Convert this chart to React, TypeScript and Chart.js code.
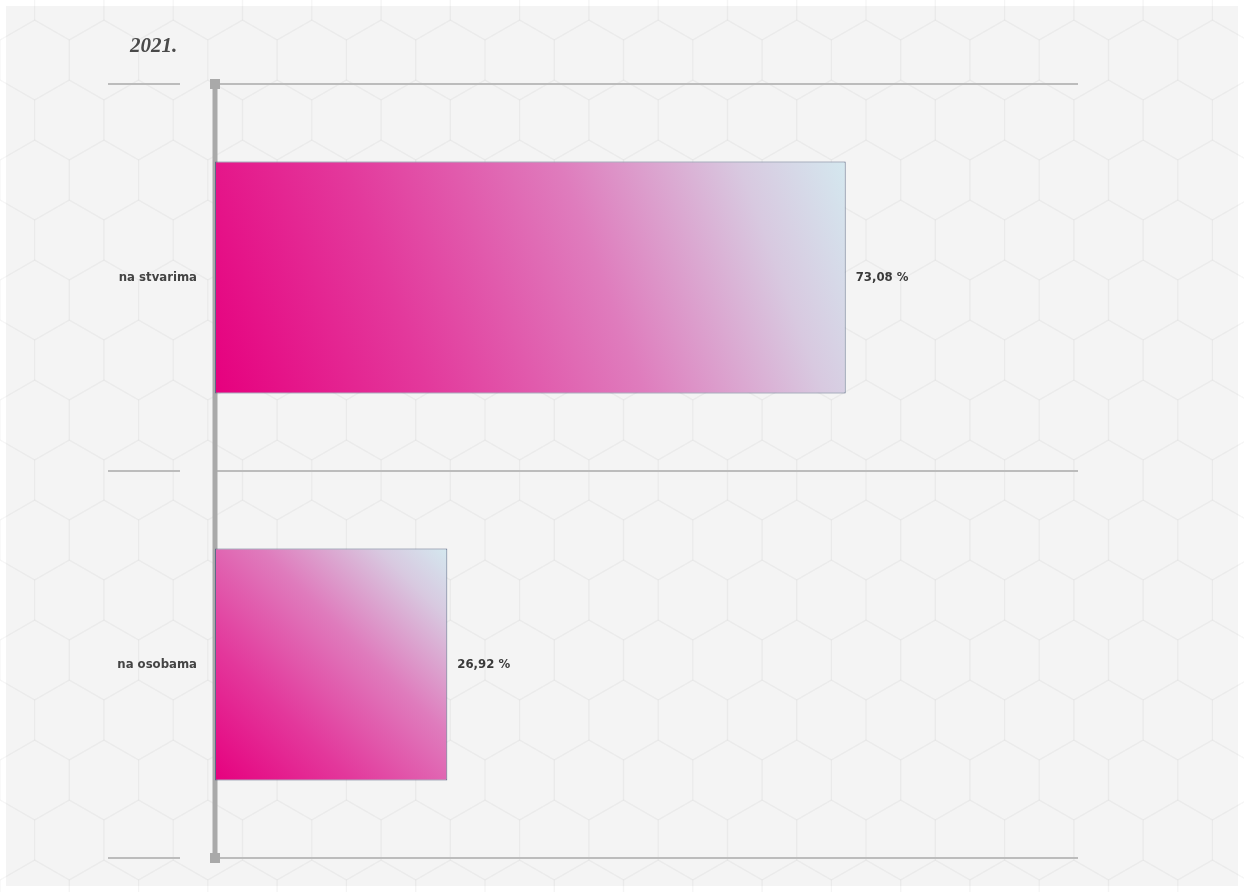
import React, { useEffect, useRef } from "react";
import { Chart, registerables } from "chart.js";

Chart.register(...registerables);

const categories = ["na stvarima", "na osobama"];
const values = [73.08, 26.92];
const valueLabels = ["73,08 %", "26,92 %"];
const yearLabel = "2021.";

const W = 1244;
const H = 892;

export default function App() {
  const ref = useRef<HTMLCanvasElement | null>(null);

  useEffect(() => {
    const canvas = ref.current;
    if (!canvas) return;

    const backgroundPlugin = {
      id: "bgHex",
      beforeDraw(chart: any) {
        const ctx = chart.ctx;
        ctx.save();
        ctx.fillStyle = "#ffffff";
        ctx.fillRect(0, 0, chart.width, chart.height);
        ctx.fillStyle = "#f4f4f4";
        ctx.fillRect(6, 6, chart.width - 12, chart.height - 12);
        const r = 40;
        const hw = Math.sqrt(3) * r;
        ctx.lineWidth = 1.5;
        for (let row = -1; row * r * 1.5 < chart.height + r; row++) {
          for (let col = -1; col * hw < chart.width + hw; col++) {
            const cx = col * hw + (row % 2 ? hw / 2 : 0);
            const cy = row * r * 1.5;
            ctx.beginPath();
            for (let k = 0; k < 6; k++) {
              const a = Math.PI / 6 + (k * Math.PI) / 3;
              const px = cx + r * Math.cos(a);
              const py = cy + r * Math.sin(a);
              if (k === 0) ctx.moveTo(px, py);
              else ctx.lineTo(px, py);
            }
            ctx.closePath();
            ctx.strokeStyle = "rgba(0,0,0,0.018)";
            ctx.stroke();
          }
        }
        ctx.restore();
      },
    };

    const framePlugin = {
      id: "frame",
      beforeDatasetsDraw(chart: any) {
        const ctx = chart.ctx;
        const y = chart.scales.y;
        const area = chart.chartArea;
        const n = categories.length;
        const bounds: number[] = [];
        for (let i = 0; i <= n; i++) {
          if (i === 0) bounds.push(area.top);
          else if (i === n) bounds.push(area.bottom);
          else bounds.push((y.getPixelForValue(i - 1) + y.getPixelForValue(i)) / 2);
        }
        ctx.save();
        ctx.strokeStyle = "#bcbcbc";
        ctx.lineWidth = 2;
        bounds.forEach((b) => {
          ctx.beginPath();
          ctx.moveTo(108, b);
          ctx.lineTo(180, b);
          ctx.moveTo(area.left, b);
          ctx.lineTo(area.right, b);
          ctx.stroke();
        });
        ctx.strokeStyle = "#a9a9a9";
        ctx.lineWidth = 5;
        ctx.beginPath();
        ctx.moveTo(area.left, area.top);
        ctx.lineTo(area.left, area.bottom);
        ctx.stroke();
        ctx.fillStyle = "#a9a9a9";
        ctx.fillRect(area.left - 5, area.top - 5, 10, 10);
        ctx.fillRect(area.left - 5, area.bottom - 5, 10, 10);
        ctx.fillStyle = "#4a4a4a";
        ctx.font = "italic bold 21px 'Liberation Serif', 'DejaVu Serif', serif";
        ctx.textAlign = "left";
        ctx.textBaseline = "alphabetic";
        ctx.fillText(yearLabel, 130, 52);
        ctx.restore();
      },
      afterDatasetsDraw(chart: any) {
        const ctx = chart.ctx;
        const meta = chart.getDatasetMeta(0);
        ctx.save();
        ctx.fillStyle = "#3a3a3a";
        ctx.font = "bold 13px 'DejaVu Sans Condensed', 'Liberation Sans Narrow', sans-serif";
        ctx.textAlign = "left";
        ctx.textBaseline = "middle";
        meta.data.forEach((bar: any, i: number) => {
          ctx.fillText(valueLabels[i], bar.x + 10, bar.y);
        });
        ctx.restore();
      },
    };

    const gradientFor = (context: any) => {
      const chart = context.chart;
      const area = chart.chartArea;
      if (!area || context.dataIndex === undefined) return "#e6007e";
      const xs = chart.scales.x;
      const ys = chart.scales.y;
      const i = context.dataIndex;
      const x0 = xs.getPixelForValue(0);
      const x1 = xs.getPixelForValue(values[i]);
      const yc = ys.getPixelForValue(i);
      const half = ((area.bottom - area.top) / categories.length) * 0.3;
      const g = chart.ctx.createLinearGradient(x0, yc + half, x1, yc - half);
      g.addColorStop(0, "#e6007e");
      g.addColorStop(0.3, "#e3399c");
      g.addColorStop(0.6, "#df7cbd");
      g.addColorStop(0.85, "#d8c9e0");
      g.addColorStop(1, "#d4e8ef");
      return g;
    };

    const chart = new Chart(canvas, {
      type: "bar",
      data: {
        labels: categories,
        datasets: [
          {
            data: values,
            backgroundColor: gradientFor as any,
            borderColor: "#5b6a86",
            borderWidth: 1,
            borderSkipped: false,
            categoryPercentage: 0.6,
            barPercentage: 1,
          },
        ],
      },
      options: {
        indexAxis: "y",
        responsive: false,
        animation: false,
        layout: { padding: { top: 84, bottom: 34, right: 166, left: 0 } },
        plugins: {
          legend: { display: false },
          tooltip: { enabled: false },
          title: { display: false },
        },
        scales: {
          x: {
            display: false,
            min: 0,
            max: 100,
          },
          y: {
            grid: { display: false, drawTicks: false },
            border: { display: false },
            afterFit: (scale: any) => {
              scale.width = 215;
            },
            ticks: {
              padding: 18,
              color: "#444444",
              font: {
                family: "'DejaVu Sans Condensed', 'Liberation Sans Narrow', sans-serif",
                size: 13,
                weight: "bold",
              },
            },
          },
        },
      },
      plugins: [backgroundPlugin, framePlugin],
    });

    return () => chart.destroy();
  }, []);

  return (
    <div style={{ position: "absolute", left: 0, top: 0, width: W, height: H }}>
      <canvas ref={ref} width={W} height={H} style={{ width: W, height: H, display: "block" }} />
    </div>
  );
}
